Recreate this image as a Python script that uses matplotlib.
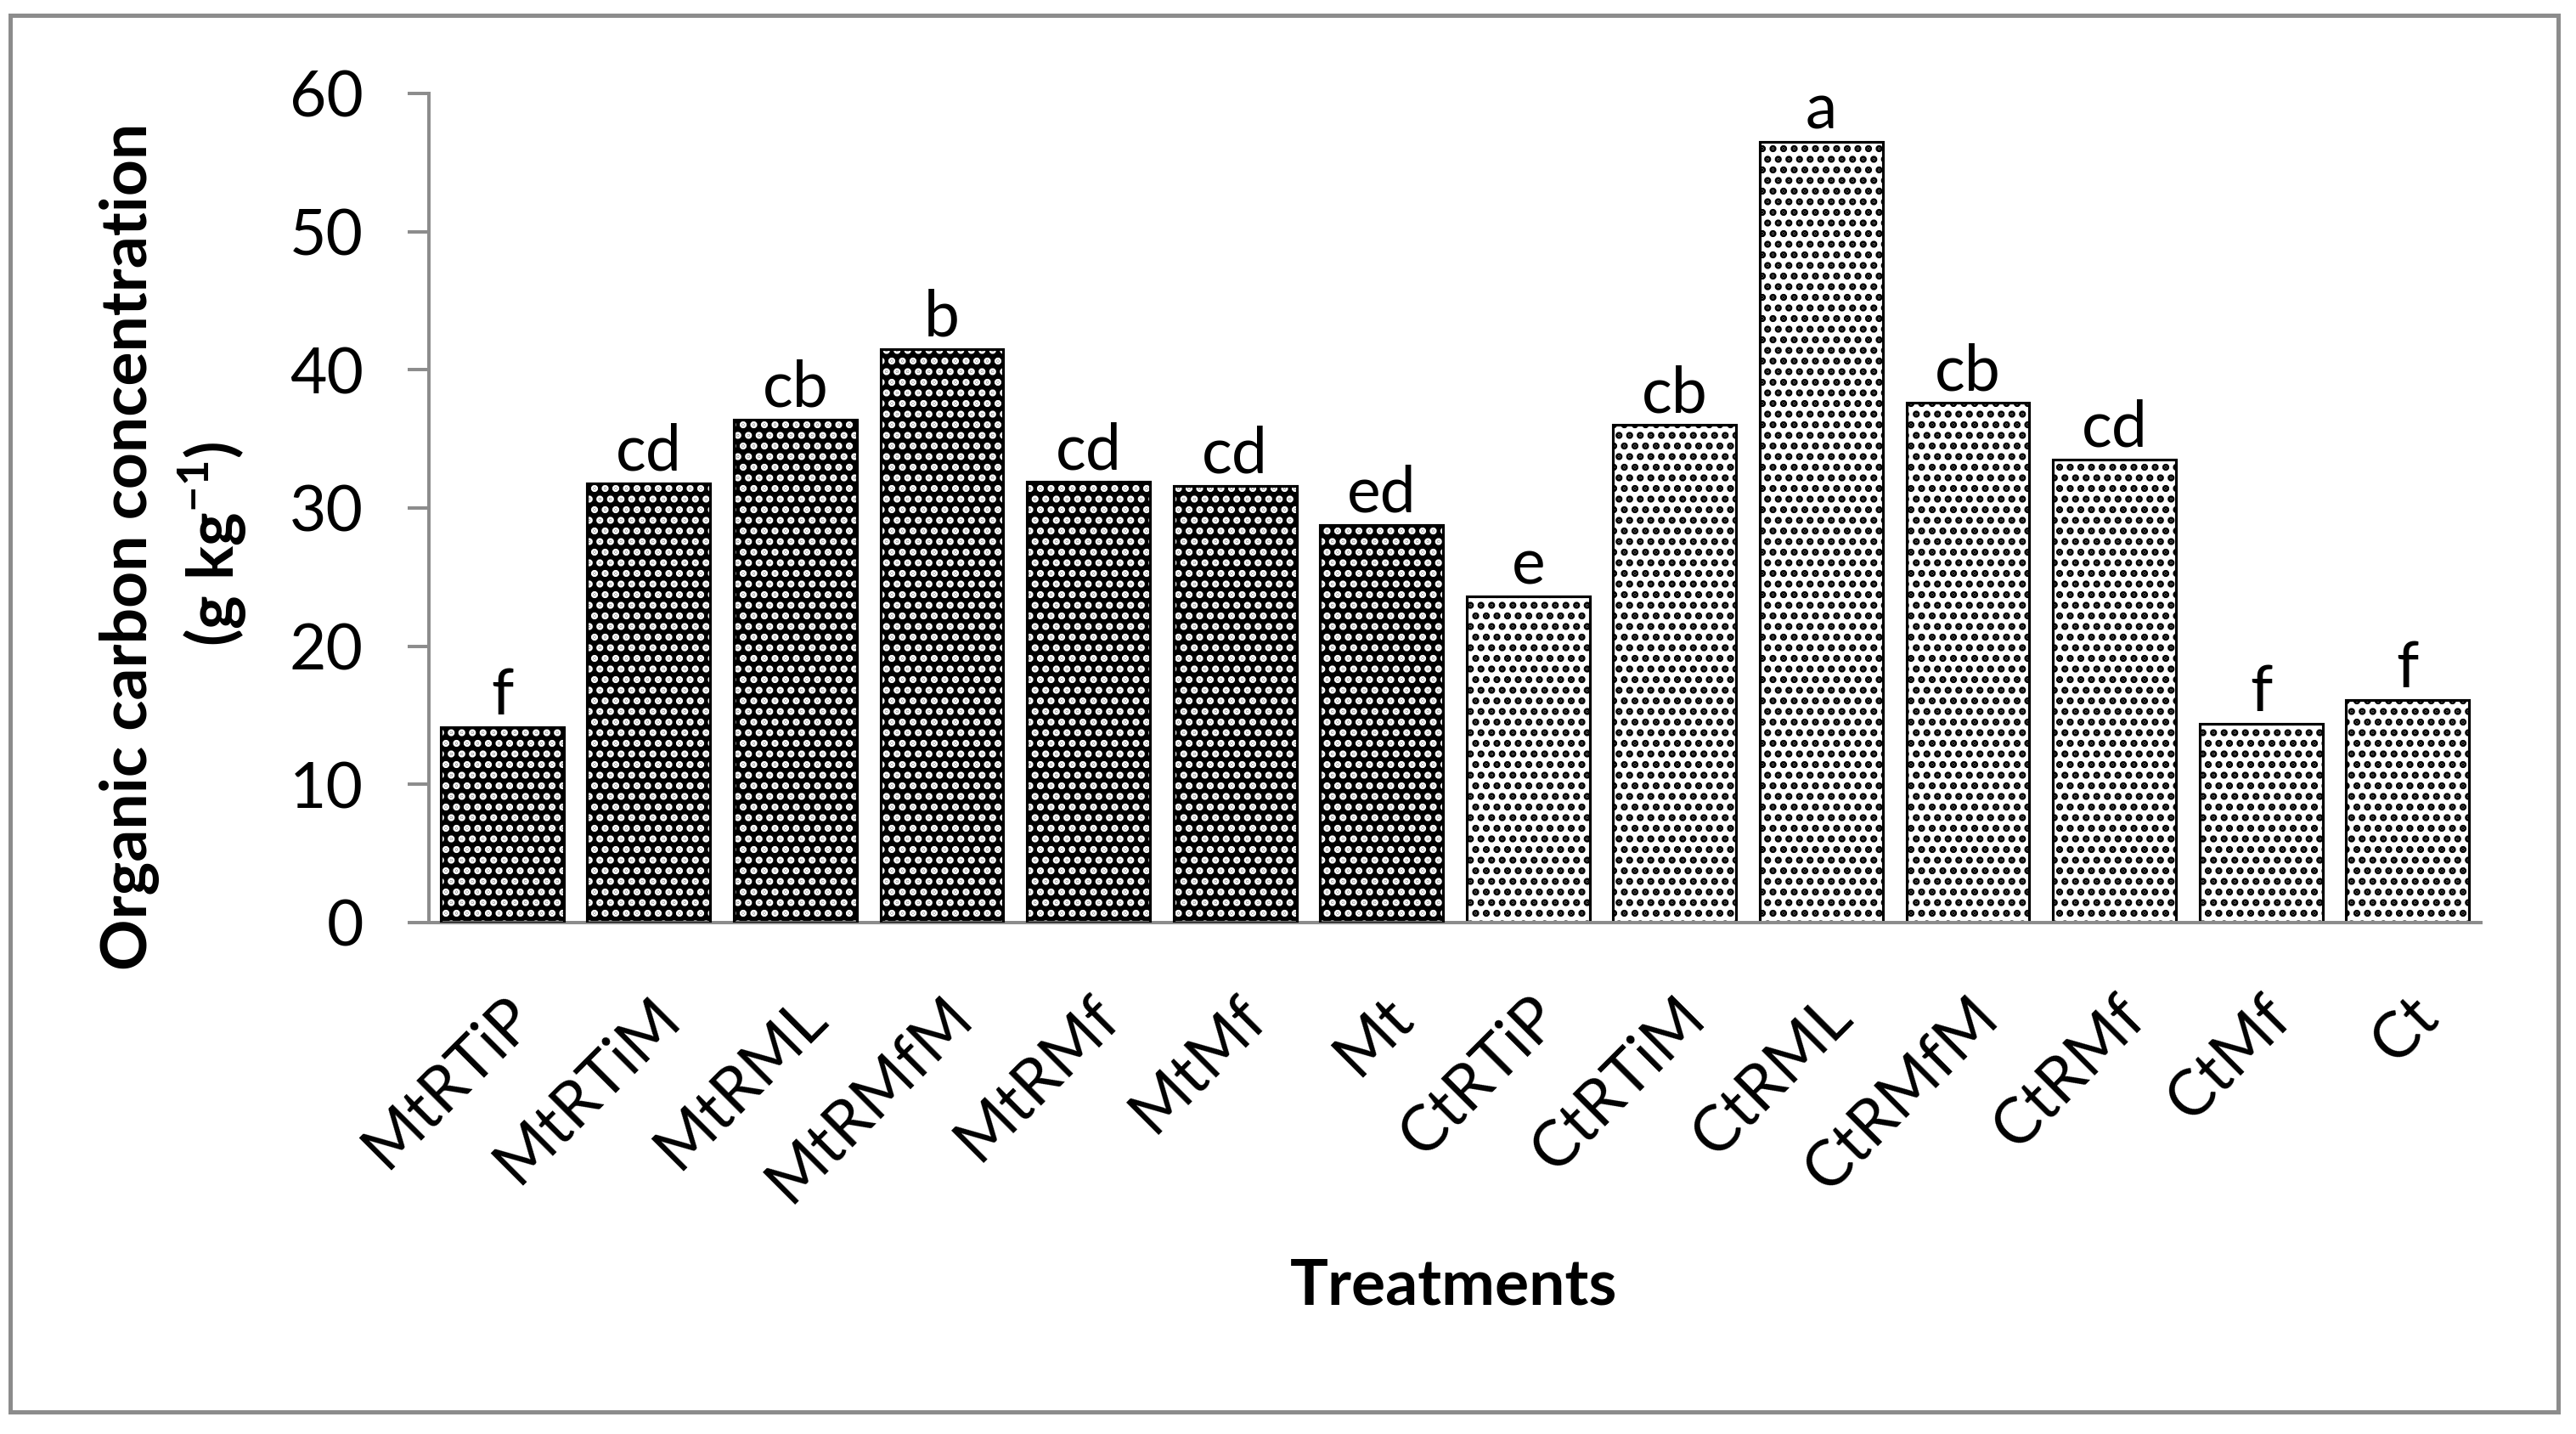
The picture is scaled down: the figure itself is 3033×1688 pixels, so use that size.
import numpy as np
import matplotlib
matplotlib.use('Agg')
import matplotlib.pyplot as plt
from matplotlib.patches import Rectangle

treatments = ['MtRTiP', 'MtRTiM', 'MtRML', 'MtRMfM', 'MtRMf', 'MtMf', 'Mt',
              'CtRTiP', 'CtRTiM', 'CtRML', 'CtRMfM', 'CtRMf', 'CtMf', 'Ct']
carbon = [14.15, 31.8, 36.4, 41.5, 31.9, 31.6, 28.8,
          23.6, 36.0, 56.5, 37.6, 33.5, 14.4, 16.1]
letters = ['f', 'cd', 'cb', 'b', 'cd', 'cd', 'ed',
           'e', 'cb', 'a', 'cb', 'cd', 'f', 'f']
n_dark = 7  # first seven treatments are drawn dark

plt.rcParams['font.family'] = ['Lato', 'DejaVu Sans']
plt.rcParams['mathtext.fontset'] = 'custom'
plt.rcParams['mathtext.rm'] = 'Lato'
plt.rcParams['mathtext.bf'] = 'Lato:bold'
plt.rcParams['hatch.linewidth'] = 2.7

grey = '#8c8c8c'
fs = 36

fig = plt.figure(figsize=(3033 / 150, 1688 / 150), dpi=150)
ax = fig.add_axes([505 / 3033, 1 - 1086 / 1688, (2921 - 505) / 3033, (1086 - 110) / 1688])

# outer chart border
fig.patches.append(Rectangle((12 / 3033, 1 - 1662 / 1688), 3000 / 3033, 1644 / 1688,
                             transform=fig.transFigure, fill=False,
                             edgecolor=grey, linewidth=2.4))

x = np.arange(len(treatments))
w = 0.84

dark = ax.bar(x[:n_dark], carbon[:n_dark], w, facecolor='black', edgecolor='white',
              linewidth=0, hatch='..', zorder=2)
ax.bar(x[:n_dark], carbon[:n_dark], w, fill=False, edgecolor='black', linewidth=1.5, zorder=3)
light = ax.bar(x[n_dark:], carbon[n_dark:], w, facecolor='white', edgecolor='black',
               linewidth=1.5, hatch='..', zorder=2)

ax.bar_label(dark, labels=letters[:n_dark], padding=1, fontsize=fs)
ax.bar_label(light, labels=letters[n_dark:], padding=1, fontsize=fs)

ax.set_xlim(-0.5, len(treatments) - 0.5)
ax.set_ylim(0, 60)
ax.set_yticks(np.arange(0, 61, 10))
ax.set_xticks(x)
ax.set_xticklabels(treatments, rotation=45, ha='right', va='top', rotation_mode='anchor')

for s in ['top', 'right']:
    ax.spines[s].set_visible(False)
for s in ['left', 'bottom']:
    ax.spines[s].set_color(grey)
    ax.spines[s].set_linewidth(1.9)

ax.tick_params(axis='y', direction='out', length=12, width=1.9, color=grey,
               pad=25, labelsize=fs)
ax.tick_params(axis='x', length=0, pad=36, labelsize=fs)

fig.text(153 / 3033, 1 - 643 / 1688, 'Organic carbon concentration', rotation=90,
         ha='center', va='center', fontsize=fs, fontweight='bold')
fig.text(250 / 3033, 1 - 640 / 1688, r'(g kg$^{\mathbf{-1}}$)', rotation=90,
         ha='center', va='center', fontsize=fs, fontweight='bold')
fig.text(1712 / 3033, 1 - 1536 / 1688, 'Treatments', ha='center', va='baseline',
         fontsize=fs, fontweight='bold')

fig.savefig('out.png', dpi=150, facecolor='white')
